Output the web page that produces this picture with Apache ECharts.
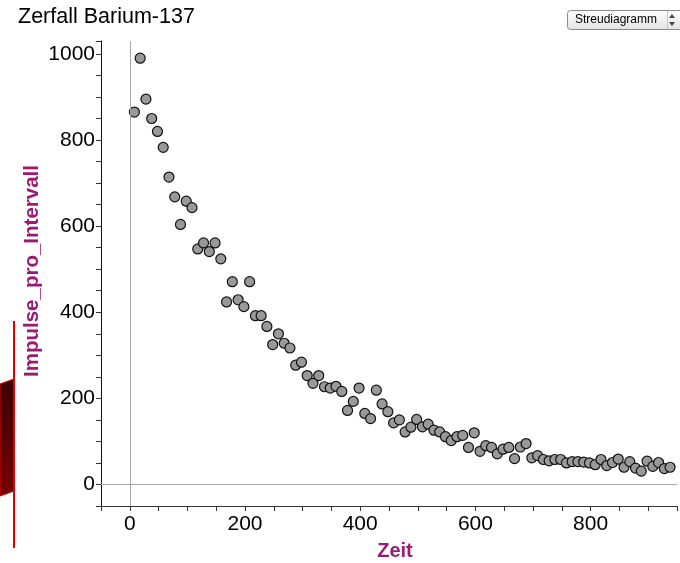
<!DOCTYPE html>
<html>
<head>
<meta charset="utf-8">
<script src="https://cdn.jsdelivr.net/npm/echarts@6/dist/echarts.min.js"></script>
<style>
html,body{margin:0;padding:0;background:#fff;}
#chart{width:680px;height:563px;}
</style>
</head>
<body>
<div id="chart"></div>
<script>
const chartTitle = 'Zerfall Barium-137';
const xAxisTitle = 'Zeit';
const yAxisTitle = 'Impulse_pro_Intervall';
const plotTypeLabel = 'Streudiagramm';

const times = [8,18,28,38,48,58,68,78,88,98,
  108,118,128,138,148,158,168,178,188,198,
  208,218,228,238,248,258,268,278,288,298,
  308,318,328,338,348,358,368,378,388,398,
  408,418,428,438,448,458,468,478,488,498,
  508,518,528,538,548,558,568,578,588,598,
  608,618,628,638,648,658,668,678,688,698,
  708,718,728,738,748,758,768,778,788,798,
  808,818,828,838,848,858,868,878,888,898,
  908,918,928,938];

const counts = [865,990,895,850,820,783,714,668,604,658,
  643,547,561,541,561,524,424,471,429,413,
  471,392,392,367,325,350,328,317,277,284,
  253,235,253,227,224,228,216,172,193,224,
  165,153,219,187,169,143,150,122,133,151,
  134,140,126,122,111,102,111,114,86,120,
  77,90,86,71,82,86,60,87,95,62,
  67,58,55,58,58,50,53,53,52,50,
  46,58,44,51,59,40,53,38,31,54,
  42,51,37,40];

const xTickLabels = [0,200,400,600,800];
const yTickLabels = [0,200,400,600,800,1000];

const chart = echarts.init(document.getElementById('chart'), null, {renderer:'canvas'});
const FONT = 'Liberation Sans, Arial, sans-serif';
const PURPLE = '#9a1a74';

chart.setOption({
  animation: false,
  backgroundColor: '#ffffff',
  grid: {left: 101, right: 3, top: 41, bottom: 57, containLabel: false},
  xAxis: {
    type: 'value', min: -50, max: 950, interval: 50,
    axisLine: {show: true, onZero: false, lineStyle: {color: '#333', width: 1}},
    axisTick: {show: true, inside: false, length: 5, lineStyle: {color: '#333'}},
    splitLine: {show: false},
    axisLabel: {
      margin: 8, color: '#000', fontSize: 21, fontFamily: FONT,
      formatter: v => xTickLabels.includes(v) ? String(v) : ''
    }
  },
  yAxis: {
    type: 'value', min: -50, max: 1030, interval: 50,
    axisLine: {show: true, onZero: false, lineStyle: {color: '#111', width: 1}},
    axisTick: {show: true, inside: false, length: 5, lineStyle: {color: '#333'}},
    splitLine: {show: false},
    axisLabel: {
      margin: 6, color: '#000', fontSize: 21, fontFamily: FONT,
      formatter: v => yTickLabels.includes(v) ? String(v) : ''
    }
  },
  series: [{
    type: 'scatter',
    data: times.map((t, i) => [t, counts[i]]),
    symbol: 'circle',
    symbolSize: 10,
    itemStyle: {color: '#999999', borderColor: '#111', borderWidth: 1.2, opacity: 1},
    markLine: {
      silent: true, symbol: 'none', animation: false,
      label: {show: false},
      lineStyle: {color: '#a8a8a8', type: 'solid', width: 1},
      data: [{xAxis: 0}, {yAxis: 0}]
    },
    z: 3
  }],
  graphic: [
    {type: 'text', left: 18, top: 6, style: {text: chartTitle, fontSize: 21.5, fontFamily: FONT, fill: '#000'}},
    {type: 'text', x: 395, y: 551, style: {text: xAxisTitle, fontSize: 20, fontWeight: 'bold', fontFamily: FONT, fill: PURPLE, align: 'center', verticalAlign: 'middle'}},
    {type: 'text', x: 32, y: 271, rotation: Math.PI / 2, style: {text: yAxisTitle, fontSize: 20.5, fontWeight: 'bold', fontFamily: FONT, fill: PURPLE, align: 'center', verticalAlign: 'middle'}},
    {type: 'rect', shape: {x: 567.5, y: 10.5, width: 125, height: 19, r: 3},
      style: {fill: new echarts.graphic.LinearGradient(0, 0, 0, 1, [{offset: 0, color: '#ffffff'}, {offset: 1, color: '#e2e2e2'}]), stroke: '#8a8a8a', lineWidth: 1}},
    {type: 'text', x: 575, y: 20, style: {text: plotTypeLabel, fontSize: 12, fontFamily: FONT, fill: '#000', verticalAlign: 'middle'}},
    {type: 'line', shape: {x1: 667.5, y1: 11, x2: 667.5, y2: 29}, style: {stroke: '#c8c8c8', lineWidth: 1}},
    {type: 'polygon', shape: {points: [[669, 18], [675, 18], [672, 14]]}, style: {fill: '#444'}},
    {type: 'polygon', shape: {points: [[669, 22], [675, 22], [672, 26]]}, style: {fill: '#444'}},
    {type: 'polygon', shape: {points: [[0, 384], [14, 379], [14, 491], [0, 496]]},
      style: {fill: new echarts.graphic.LinearGradient(0, 0, 1, 1, [{offset: 0, color: '#3a0000'}, {offset: 1, color: '#7a0000'}]), stroke: '#d40000', lineWidth: 1}},
    {type: 'line', shape: {x1: 14, y1: 321, x2: 14, y2: 548}, style: {stroke: '#e00000', lineWidth: 2}}
  ]
});
</script>
</body>
</html>
